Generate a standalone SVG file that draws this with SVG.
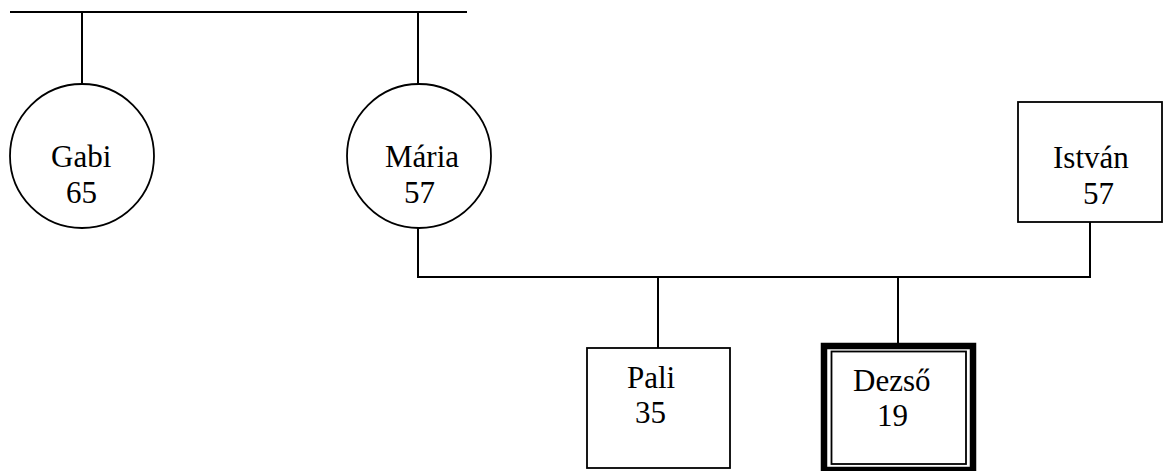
<svg xmlns="http://www.w3.org/2000/svg" width="1165" height="471" viewBox="0 0 1165 471">
  <style>
    .line { fill: none; stroke: #000; stroke-width: 2; }
    .shape { fill: #fff; stroke: #000; stroke-width: 1.8; }
    .thick { fill: #fff; stroke: #000; stroke-width: 6.5; }
    .label { font-family: "Liberation Serif", "Times New Roman", serif; font-size: 31px; fill: #000; }
  </style>
  <rect width="1165" height="471" fill="#fff"/>

  <!-- connectors -->
  <g id="connectors">
    <path class="line" d="M10 12 H467"/>
    <path class="line" d="M82 12 V84"/>
    <path class="line" d="M418 12 V84"/>
    <path class="line" d="M418 228 V277 H1090 V222"/>
    <path class="line" d="M658 277 V348"/>
    <path class="line" d="M898 277 V343"/>
  </g>

  <g id="gabi">
    <circle class="shape" cx="82" cy="156" r="72"/>
    <text class="label" x="51" y="167">Gabi</text>
    <text class="label" x="66" y="203">65</text>
  </g>

  <g id="maria">
    <circle class="shape" cx="419" cy="156" r="72"/>
    <text class="label" x="385" y="167">Mária</text>
    <text class="label" x="404" y="203">57</text>
  </g>

  <g id="istvan">
    <rect class="shape" x="1018" y="102" width="144" height="120"/>
    <text class="label" x="1053" y="168">István</text>
    <text class="label" x="1083" y="204">57</text>
  </g>

  <g id="pali">
    <rect class="shape" x="587" y="348" width="143" height="120"/>
    <text class="label" x="627" y="388">Pali</text>
    <text class="label" x="635" y="423">35</text>
  </g>

  <g id="dezso">
    <rect class="thick" x="824" y="346" width="149" height="124"/>
    <rect class="shape" x="831.5" y="351.5" width="134.5" height="112.5" stroke-width="1.6"/>
    <text class="label" x="853" y="391">Dezső</text>
    <text class="label" x="877" y="426">19</text>
  </g>
</svg>
